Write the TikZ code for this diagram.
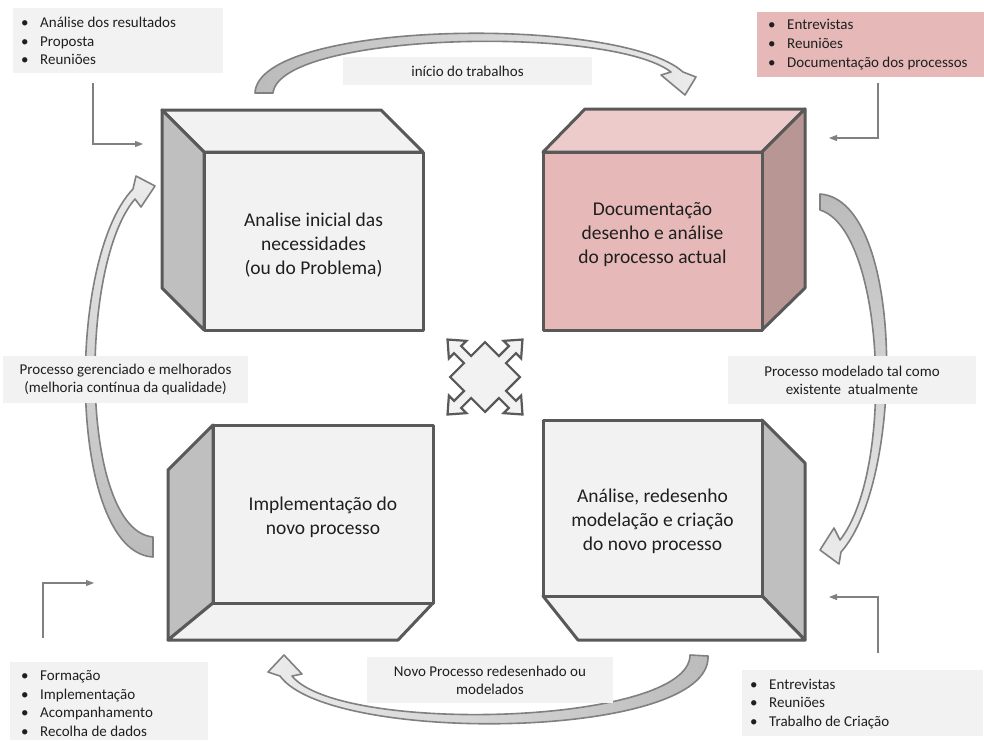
\documentclass[tikz,border=0pt]{standalone}
\usepackage{fontspec}
\setmainfont{Carlito}
\usetikzlibrary{arrows.meta}
\definecolor{edgec}{HTML}{595959}
\definecolor{cfront}{HTML}{F2F2F2}
\definecolor{cside}{HTML}{BFBFBF}
\definecolor{pfront}{HTML}{E6B9B8}
\definecolor{ptop}{HTML}{EDCBCA}
\definecolor{pside}{HTML}{B89694}
\definecolor{labbg}{HTML}{F2F2F2}
\definecolor{txt}{HTML}{1F1F1F}
\definecolor{arrline}{HTML}{808080}
\definecolor{arrdark}{HTML}{BBBBBB}
\definecolor{arrlight}{HTML}{EBEBEB}
\begin{document}
\begin{tikzpicture}[x=1pt,y=-1pt,
  cubeline/.style={draw=edgec, line width=3pt, line join=round},
  cubetext/.style={text=txt, align=center, font=\fontsize{19.5}{24}\selectfont},
  labbox/.style={fill=labbg, inner sep=0pt},
  labtext/.style={text=txt, align=center, font=\fontsize{15}{18}\selectfont, inner sep=0pt},
  listtext/.style={text=txt, align=left, anchor=west, font=\fontsize{15}{18.7}\selectfont, inner sep=0pt},
  carrow/.style={draw=arrline, line width=1.6pt, line join=round},
  conn/.style={draw=arrline, line width=1.1pt, -{Triangle[length=8pt,width=6pt]}},
  quad/.style={draw=edgec, fill=cfront, line width=2.2pt, line join=miter}
]
\useasboundingbox[fill=white] (0,0) rectangle (984,740);

% ---------- cube 1 (top left)
\filldraw[cubeline, fill=cfront] (162,110) -- (381,110) -- (423,152) -- (204,152) -- cycle;
\filldraw[cubeline, fill=cside] (162,110) -- (204,152) -- (204,330) -- (162,288) -- cycle;
\filldraw[cubeline, fill=cfront] (204,152) rectangle (423,330);
\node[cubetext] (c1) at (313.5,245) {Analise inicial das\\necessidades\\(ou do Problema)};

% ---------- cube 2 (top right, pink)
\filldraw[cubeline, fill=ptop] (585,109) -- (805,109) -- (762,152) -- (543,152) -- cycle;
\filldraw[cubeline, fill=pside] (805,109) -- (805,288) -- (762,330) -- (762,152) -- cycle;
\filldraw[cubeline, fill=pfront] (543,152) rectangle (762,330);
\node[cubetext] (c2) at (652.5,235) {Documentação\\desenho e análise\\do processo actual};

% ---------- cube 3 (bottom left)
\filldraw[cubeline, fill=cside] (213,425) -- (168,470) -- (168,640) -- (213,603) -- cycle;
\filldraw[cubeline, fill=cfront] (213,603) -- (433,603) -- (398,640) -- (168,640) -- cycle;
\filldraw[cubeline, fill=cfront] (213,425) rectangle (433,603);
\node[cubetext] (c3) at (323,517) {Implementação do\\novo processo};

% ---------- cube 4 (bottom right)
\filldraw[cubeline, fill=cside] (762,420) -- (805,463) -- (805,640) -- (762,596) -- cycle;
\filldraw[cubeline, fill=cfront] (543,596) -- (762,596) -- (805,640) -- (578,640) -- cycle;
\filldraw[cubeline, fill=cfront] (543,420) rectangle (762,596);
\node[cubetext] (c4) at (652.5,521) {Análise, redesenho\\modelação e criação\\do novo processo};

% ---------- curved block arrows
\path[carrow, left color=arrdark, right color=arrlight]
  (255,93) .. controls (258,20) and (620,15) .. (683,72) -- (696,77) -- (685,95) -- (661,75) -- (671,72)
  .. controls (610,25) and (280,32) .. (273,93) -- cycle;
\path[carrow, top color=arrdark, bottom color=arrlight]
  (820,210) -- (820,194) .. controls (905,200) and (905,480) .. (841,552) -- (839,564) -- (820,550) -- (834,528) -- (840,540)
  .. controls (895,470) and (885,230) .. (820,210) -- cycle;
\path[carrow, right color=arrdark, left color=arrlight]
  (690,655) -- (708,656) .. controls (712,740) and (330,745) .. (280,676) -- (268,672) -- (284,655) -- (302,674) -- (292,676)
  .. controls (340,735) and (690,725) .. (690,655) -- cycle;
\path[carrow, bottom color=arrdark, top color=arrlight]
  (153,537) -- (153,557) .. controls (68,552) and (65,260) .. (133,189) -- (136,176) -- (155,186) -- (141,207) -- (135,199)
  .. controls (78,265) and (80,530) .. (153,537) -- cycle;

% ---------- centre four-way arrow
\begin{scope}[shift={(485,377)}, rotate=45]
\draw[quad] (24.7,-5) -- (38.7,-5) -- (38.7,-12.4) -- (53,0) -- (38.7,12.4) -- (38.7,5) -- (24.7,5)
  -- (24.7,24.7)
  -- (5,24.7) -- (5,38.7) -- (12.4,38.7) -- (0,53) -- (-12.4,38.7) -- (-5,38.7) -- (-5,24.7)
  -- (-24.7,24.7)
  -- (-24.7,5) -- (-38.7,5) -- (-38.7,12.4) -- (-53,0) -- (-38.7,-12.4) -- (-38.7,-5) -- (-24.7,-5)
  -- (-24.7,-24.7)
  -- (-5,-24.7) -- (-5,-38.7) -- (-12.4,-38.7) -- (0,-53) -- (12.4,-38.7) -- (5,-38.7) -- (5,-24.7)
  -- (24.7,-24.7) -- cycle;
\end{scope}
\node[inner sep=0pt, minimum size=1pt] (mid) at (485,377) {};

% ---------- label boxes on the arrows
\node[labbox, minimum width=249pt, minimum height=28pt] (l1) at (467.5,71) {};
\node[labtext] (t1) at (467.5,71) {início do trabalhos};
\node[labbox, minimum width=248pt, minimum height=48pt] (l2) at (852,380) {};
\node[labtext] (t2) at (852,380) {Processo modelado tal como\\existente\ \ atualmente};
\node[labbox, minimum width=246pt, minimum height=46pt] (l3) at (490,680) {};
\node[labtext] (t3) at (490,680) {Novo Processo redesenhado ou\\modelados};
\node[labbox, minimum width=245pt, minimum height=47pt] (l4) at (125.5,379.5) {};
\node[labtext] (t4) at (125.5,379.5) {Processo gerenciado e melhorados\\(melhoria contínua da qualidade)};

% ---------- bullet lists
\newcommand{\bul}{\makebox[19pt][l]{\textbullet}}
\node[labbox, anchor=north west, minimum width=210pt, minimum height=65pt] (b1) at (13,8) {};
\node[listtext] (bt1) at (21,41) {\bul Análise dos resultados\\\bul Proposta\\\bul Reuniões};
\node[labbox, fill=pfront, anchor=north west, minimum width=227pt, minimum height=65pt] (b2) at (757,12) {};
\node[listtext] (bt2) at (768,44.5) {\bul Entrevistas\\\bul Reuniões\\\bul Documentação dos processos};
\node[labbox, anchor=north west, minimum width=198pt, minimum height=78pt] (b3) at (10,662) {};
\node[listtext] (bt3) at (21,703.5) {\bul Formação\\\bul Implementação\\\bul Acompanhamento\\\bul Recolha de dados};
\node[labbox, anchor=north west, minimum width=241pt, minimum height=66pt] (b4) at (742,670) {};
\node[listtext] (bt4) at (750,704) {\bul Entrevistas\\\bul Reuniões\\\bul Trabalho de Criação};

% ---------- elbow connectors
\coordinate (k1s) at (93,83);  \coordinate (k1e) at (143,144);
\coordinate (k2s) at (878,83); \coordinate (k2e) at (829,138);
\coordinate (k3s) at (43,638); \coordinate (k3e) at (94,583);
\coordinate (k4s) at (878,653); \coordinate (k4e) at (829,597);
\draw[conn] (k1s) |- (k1e);
\draw[conn] (k2s) |- (k2e);
\draw[conn] (k3s) |- (k3e);
\draw[conn] (k4s) |- (k4e);
\end{tikzpicture}
\end{document}
